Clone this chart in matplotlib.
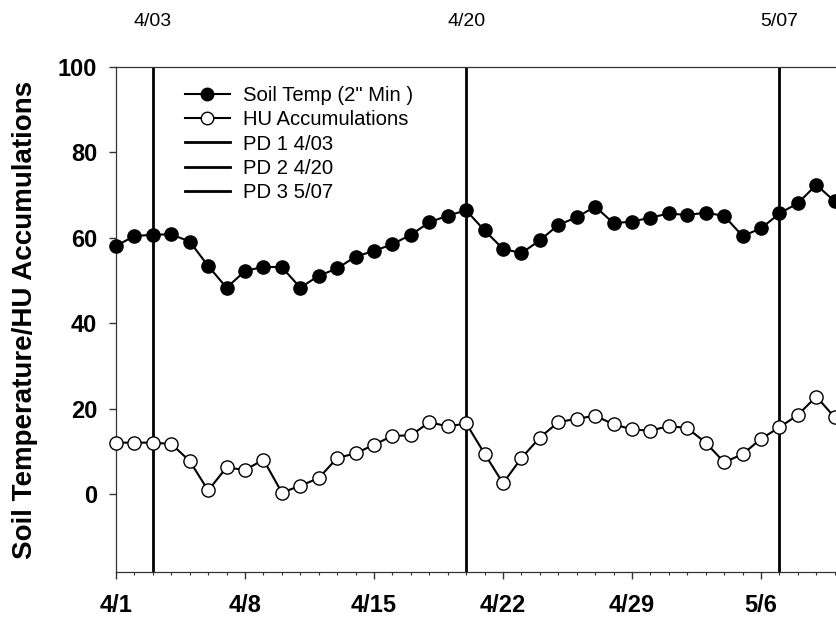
import matplotlib
matplotlib.use("Agg")
import matplotlib.pyplot as plt
import matplotlib.dates as mdates
import pandas as pd
from matplotlib.lines import Line2D

# ---- data ----
dates = pd.date_range("2021-04-01", periods=40, freq="D")
soil_temp = [58.1, 60.4, 60.7, 60.8, 59.1, 53.4, 48.3, 52.2, 53.2, 53.1,
             48.3, 51.1, 52.8, 55.6, 56.9, 58.5, 60.7, 63.6, 65.2, 66.4,
             61.7, 57.4, 56.4, 59.4, 63.0, 64.8, 67.3, 63.4, 63.8, 64.7,
             65.7, 65.3, 65.9, 65.1, 60.4, 62.2, 65.7, 68.1, 72.4, 68.5]
hu_accum = [12.0, 12.0, 12.0, 11.7, 7.7, 0.8, 6.2, 5.6, 8.0, 0.3,
            1.9, 3.7, 8.4, 9.5, 11.5, 13.6, 13.7, 16.8, 15.8, 16.5,
            9.4, 2.5, 8.4, 13.2, 16.8, 17.6, 18.3, 16.3, 15.1, 14.8,
            15.9, 15.4, 12.0, 7.4, 9.3, 12.9, 15.6, 18.5, 22.8, 17.9]
plant_dates = ["2021-04-03", "2021-04-20", "2021-05-07"]
plant_labels = ["4/03", "4/20", "5/07"]
legend_labels = ['Soil Temp (2" Min )', "HU Accumulations",
                 "PD 1 4/03", "PD 2 4/20", "PD 3 5/07"]
xtick_dates = ["2021-04-01", "2021-04-08", "2021-04-15", "2021-04-22",
               "2021-04-29", "2021-05-06"]
xtick_labels = ["4/1", "4/8", "4/15", "4/22", "4/29", "5/6"]
yticks = [0, 20, 40, 60, 80, 100]

plt.rcParams['font.family'] = ['Liberation Sans', 'DejaVu Sans']

W, H = 836, 619
fig = plt.figure(figsize=(W / 100, H / 100), dpi=100)
left_px, top_px, bot_px = 116, 67, 572
ndays = 40
px_per_day = 18.43
ax = fig.add_axes([left_px / W, (H - bot_px) / H,
                   ndays * px_per_day / W, (bot_px - top_px) / H])

x0 = mdates.date2num(pd.Timestamp("2021-04-01"))
ax.set_xlim(x0, x0 + ndays)
ax.set_ylim(-18.3, 100)

pd_nums = [mdates.date2num(pd.Timestamp(d)) for d in plant_dates]
for xv in pd_nums:
    ax.axvline(xv, color="black", lw=2.0, zorder=1)

xs = mdates.date2num(dates)
ax.plot(xs, soil_temp, color="black", lw=1.5, marker="o", ms=9.5,
        mfc="black", mec="black", zorder=3, clip_on=False)
ax.plot(xs, hu_accum, color="black", lw=1.5, marker="o", ms=9.5,
        mfc="white", mec="black", mew=1.0, zorder=3, clip_on=False)

ax.set_xticks([mdates.date2num(pd.Timestamp(d)) for d in xtick_dates])
ax.set_xticklabels(xtick_labels, fontsize=17, fontweight="bold")
ax.set_xticks(xs, minor=True)
ax.set_yticks(yticks)
ax.set_yticklabels([str(v) for v in yticks], fontsize=17, fontweight="bold")

ax.tick_params(axis="x", which="major", direction="out", length=5,
               width=1, pad=10.5, color="#333333")
ax.tick_params(axis="x", which="minor", direction="out", length=2.5,
               width=0.8, color="#333333")
ax.tick_params(axis="y", which="major", direction="out", length=5,
               width=1, pad=8.5, color="#333333")

for s in ax.spines.values():
    s.set_linewidth(0.9)
    s.set_color("#333333")

ax.set_ylabel("Soil Temperature/HU Accumulations", fontsize=20,
              fontweight="bold")
ax.yaxis.set_label_coords((38 - left_px) / (ndays * px_per_day), 0.5)

# top labels for planting dates
for xv, lab in zip(pd_nums, plant_labels):
    xf = (left_px + (xv - x0) * px_per_day) / W
    fig.text(xf, 1 - 22 / H, lab, ha="center", va="center", fontsize=14)

handles = [
    Line2D([], [], color="black", lw=1.5, marker="o", ms=9,
           mfc="black", mec="black"),
    Line2D([], [], color="black", lw=1.5, marker="o", ms=9,
           mfc="white", mec="black"),
    Line2D([], [], color="black", lw=2.0),
    Line2D([], [], color="black", lw=2.0),
    Line2D([], [], color="black", lw=2.0),
]
leg = fig.legend(handles, legend_labels, loc="upper left",
                 bbox_to_anchor=(185 / W, 1 - 86 / H), frameon=False,
                 fontsize=14.6, handlelength=2.2, handletextpad=0.64,
                 labelspacing=0.26, borderaxespad=0, borderpad=0)

fig.savefig("out.png", dpi=100)
